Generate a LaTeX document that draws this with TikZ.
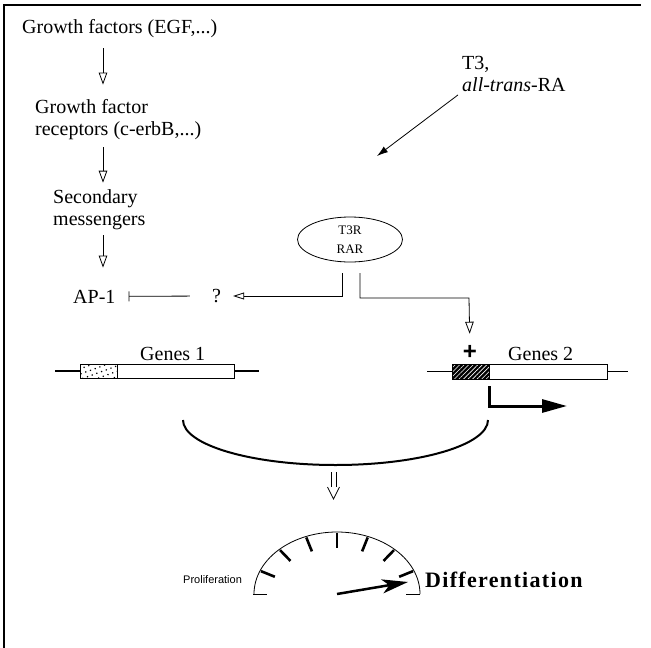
\documentclass[tikz,border=0pt]{standalone}
\usepackage{fontspec}
\setmainfont{Liberation Serif}
\setsansfont{Liberation Sans}
\usetikzlibrary{arrows.meta,patterns.meta,shapes.geometric,calc}
\begin{document}
\begin{tikzpicture}[x=1pt,y=-1pt,
  every node/.style={inner sep=0pt},
  txt/.style={font=\fontsize{20}{22}\selectfont},
  thinl/.style={line width=0.8pt},
  openarrow/.style={thinl,-{Triangle[open,length=12pt,width=8.5pt]}},
  blackarrow/.style={thinl,-{Latex[length=11pt,width=7pt]}},
  inhibit/.style={thinl,-{Bar[width=10pt,line width=0.8pt]}},
  genebox/.style={draw,line width=0.8pt,minimum height=15pt},
  geneline/.style={line width=1.2pt},
  tickmark/.style={line width=2.6pt},
]
\useasboundingbox (0,0) rectangle (651,648);
\draw[line width=1.2pt] (4,648) -- (4,5) -- (641,5);

% left cascade
\node[txt,anchor=base west] (gf) at (22,33) {Growth factors (EGF,...)};
\node[txt,anchor=west,align=left] (gfr) at (35,120) {Growth factor\\receptors (c-erbB,...)};
\node[txt,anchor=west,align=left] (sm) at (53,210) {Secondary\\messengers};
\node[txt,anchor=base west] (ap) at (73,303) {AP-1};
\node[txt] (q) at (216.5,296) {?};

\coordinate (ax) at (103,0);
\draw[openarrow,shorten <=11pt,shorten >=15pt] (gf.south -| ax) -- (gfr.north -| ax);
\draw[openarrow,shorten <=7pt,shorten >=7pt] (gfr.south -| ax) -- (sm.north -| ax);
\draw[openarrow,shorten <=5pt,shorten >=22pt] (sm.south -| ax) -- (ap.north -| ax);
\draw[inhibit,shorten <=22pt,shorten >=13pt] (q) -- (ap);

% receptor
\node[draw,thinl,ellipse,minimum width=105pt,minimum height=45pt,align=center,
      font=\fontsize{13}{19}\selectfont] (rec) at (350,239.5) {T3R\\RAR};
\node[txt,anchor=west,align=left] (t3) at (462,74) {T3,\\\textit{all-trans}-RA};
\coordinate (t3b) at (377,156);
\draw[blackarrow] ([xshift=-4pt,yshift=-3pt]t3.south west) -- (t3b);

\coordinate (l1) at (342,273);
\coordinate (r1) at (360,273);
\coordinate (r2) at (469,298);
\draw[thinl,-{Triangle[open,length=11pt,width=7pt]},shorten >=12pt] (l1) |- (q);
\node[font=\sffamily\bfseries\fontsize{24}{26}\selectfont] (plus) at (470,352) {+};
\draw[openarrow,shorten >=11pt] (r1) |- (r2) -- (plus);

% genes
\node[txt,anchor=base west] (g1t) at (140,360) {Genes 1};
\node[txt,anchor=base west] (g2t) at (508,360) {Genes 2};
\node[genebox,minimum width=37pt,minimum height=14pt,
      pattern={Dots[distance=5pt,radius=0.85pt,angle=20]}] (g1p) at (98.5,371) {};
\node[genebox,minimum width=117pt,minimum height=14pt] (g1b) at (175.5,371) {};
\draw[geneline] (g1p.west) -- ++(-25,0);
\draw[geneline] (g1b.east) -- ++(25,0);
\node[genebox,minimum width=37pt,preaction={fill=black},
      pattern={Lines[angle=45,distance=3.2pt,line width=0.6pt]},pattern color=white] (g2p) at (470.5,371.5) {};
\node[genebox,minimum width=118pt] (g2b) at (548,371.5) {};
\draw[geneline] (g2p.west) -- ++(-25,0);
\draw[geneline] (g2b.east) -- ++(21,0);

\coordinate (bt) at (567,406);
\draw[line width=3pt,-{Triangle[length=25pt,width=13pt]}] ([yshift=-7pt]g2p.south east) |- (bt);

% big arc
\draw[line width=2pt] (183,420) .. controls (183,444.9) and (251.3,465) .. (335.5,465)
  .. controls (419.7,465) and (488,444.9) .. (488,420);

% double arrow
\draw[thinl] (331,472) -- (331,487) (336,472) -- (336,487);
\draw[thinl] (327.5,487) -- (333.5,499) -- (339.5,487);

% gauge
\coordinate (gc) at (337,594);
\draw[thinl] plot[domain=0:180,samples=61,smooth] ({337+83*cos(\x)},{594-62*sin(\x)});
\draw[thinl] (253,594) -- (267,594);
\draw[thinl] (406,594) -- (420,594);
\foreach \a in {158,134,112,90,68,46,22}
  \draw[tickmark] ({337+82*cos(\a)},{594-61*sin(\a)}) -- ({337+67*cos(\a)},{594-46*sin(\a)});
\coordinate (nt) at (408,582);
\draw[line width=2.5pt,-{Stealth[length=26pt,width=14pt,inset=7pt]}] (gc) -- (nt);

\node[font=\sffamily\fontsize{11}{13}\selectfont,anchor=base west] (pro) at (183,583) {Proliferation};
\node[font=\bfseries\fontsize{22}{25}\selectfont\addfontfeature{LetterSpace=6},anchor=base west] (dif) at (425,587) {Differentiation};
\end{tikzpicture}
\end{document}
